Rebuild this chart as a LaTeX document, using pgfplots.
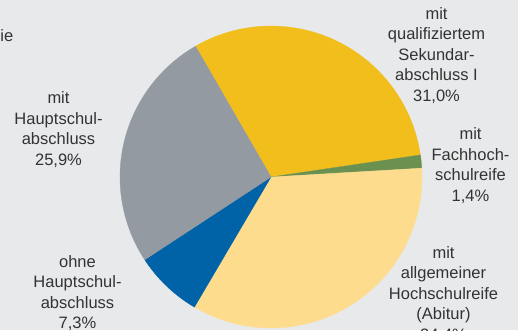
\documentclass[border=0pt]{standalone}
\usepackage{fontspec}
\setmainfont{Liberation Sans}
\usepackage{pgfplots}
\pgfplotsset{compat=1.18}
\definecolor{bg}{HTML}{E8E9EB}
\definecolor{cYel}{HTML}{F1BE1C}
\definecolor{cGrn}{HTML}{6A9150}
\definecolor{cLy}{HTML}{FEDC8E}
\definecolor{cBlu}{HTML}{0062A7}
\definecolor{cGry}{HTML}{939AA1}
\definecolor{txt}{HTML}{333333}
% shares in percent
\def\vYel{31.0}
\def\vGrn{1.4}
\def\vLy{34.4}
\def\vBlu{7.3}
\def\vGry{25.9}
\pgfmathsetmacro\aA{120}
\pgfmathsetmacro\aB{\aA-3.6*\vYel}
\pgfmathsetmacro\aC{\aB-3.6*\vGrn}
\pgfmathsetmacro\aD{\aC-3.6*\vLy}
\pgfmathsetmacro\aE{\aD-3.6*\vBlu}
\pgfmathsetmacro\aF{\aE-3.6*\vGry}
\begin{document}
\begin{tikzpicture}[x=1bp,y=1bp]
\path[use as bounding box] (0,0) rectangle (518,330);
\fill[bg] (0,0) rectangle (518,330);
\clip (0,0) rectangle (518,330);
\begin{axis}[at={(271bp,153bp)}, anchor=center, x=151bp, y=151bp,
  xmin=-1, xmax=1, ymin=-1, ymax=1, hide axis, clip=false]
\addplot[fill=cYel, draw=cYel, line width=0.3pt, domain=\aB:\aA, samples=90, variable=\t] ({cos(t)},{sin(t)}) -- (axis cs:0,0) -- cycle;
\addplot[fill=cGrn, draw=cGrn, line width=0.3pt, domain=\aC:\aB, samples=10, variable=\t] ({cos(t)},{sin(t)}) -- (axis cs:0,0) -- cycle;
\addplot[fill=cLy, draw=cLy, line width=0.3pt, domain=\aD:\aC, samples=100, variable=\t] ({cos(t)},{sin(t)}) -- (axis cs:0,0) -- cycle;
\addplot[fill=cBlu, draw=cBlu, line width=0.3pt, domain=\aE:\aD, samples=25, variable=\t] ({cos(t)},{sin(t)}) -- (axis cs:0,0) -- cycle;
\addplot[fill=cGry, draw=cGry, line width=0.3pt, domain=\aF:\aE, samples=80, variable=\t] ({cos(t)},{sin(t)}) -- (axis cs:0,0) -- cycle;
\end{axis}
\tikzset{lab/.style={anchor=north, inner sep=0pt, align=center, text=txt,
  font=\fontsize{16.5bp}{20.5bp}\selectfont}}
\node[anchor=base east, inner sep=0pt, text=txt, font=\fontsize{16.5bp}{20.5bp}\selectfont] at (13.5,{330-41.7}) {ie};
\node[lab] at (58.5,{330-91.7}) {mit\\Hauptschul-\\abschluss\\25,9\%};
\node[lab] at (77.5,{330-255}) {ohne\\Hauptschul-\\abschluss\\7,3\%};
\node[lab] at (436.5,{330-7.3}) {mit\\qualifiziertem\\Sekundar-\\abschluss I\\31,0\%};
\node[lab] at (470.5,{330-127.7}) {mit\\Fachhoch-\\schulreife\\1,4\%};
\node[lab] at (443.5,{330-246}) {mit\\allgemeiner\\Hochschulreife\\(Abitur)\\34,4\%};
\end{tikzpicture}
\end{document}
